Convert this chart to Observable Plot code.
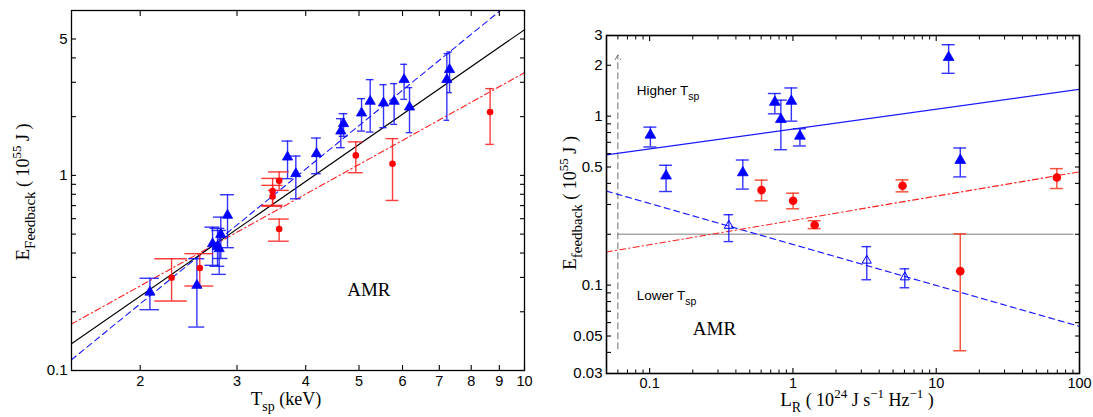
<!DOCTYPE html>
<html><head><meta charset="utf-8">
<script src="https://cdn.jsdelivr.net/npm/d3@7"></script>
<script src="https://cdn.jsdelivr.net/npm/@observablehq/plot@0.6"></script>
<style>
body{margin:0;background:#fff;}
#wrap{position:relative;width:1093px;height:417px;overflow:hidden;background:#fff;}
#left,#right{position:absolute;top:0;}
#left{left:0;} #right{left:545px;}
</style></head><body><div id="wrap"><div id="left"></div><div id="right"></div></div>
<script>
// ---------- LEFT PANEL: E_Feedback vs T_sp ----------
const leftBlueT  = [2.083, 2.536, 2.708, 2.784, 2.803, 2.765, 2.883, 3.707, 3.838, 4.185, 4.634, 4.687, 5.054, 5.24, 5.541, 5.793, 6.04, 6.178, 7.224, 7.306];
const leftBlueE  = [0.252, 0.273, 0.446, 0.421, 0.498, 0.432, 0.624, 1.241, 1.02, 1.292, 1.687, 1.841, 2.087, 2.396, 2.349, 2.396, 3.096, 2.24, 3.096, 3.484];
const leftBlueLo = [0.205, 0.167, 0.346, 0.311, 0.375, 0.342, 0.426, 0.962, 0.759, 1.02, 1.387, 1.585, 1.687, 1.667, 1.756, 1.826, 2.453, 1.656, 1.915, 2.656];
const leftBlueHi = [0.297, 0.374, 0.543, 0.522, 0.611, 0.535, 0.796, 1.5, 1.256, 1.554, 1.953, 2.072, 2.474, 3.096, 2.918, 2.953, 3.709, 2.817, 4.208, 4.289];

const leftRedT  = [2.281, 2.567, 3.579, 3.482, 3.482, 3.579, 4.934, 5.754, 8.658];
const leftRedE  = [0.299, 0.335, 0.939, 0.831, 0.78, 0.531, 1.266, 1.148, 2.111];
const leftRedLo = [0.227, 0.271, 0.838, 0.702, 0.694, 0.46, 1.032, 0.744, 1.442];
const leftRedHi = [0.374, 0.397, 1.042, 0.965, 0.889, 0.597, 1.485, 1.543, 2.784];

// fit lines (end points)
const leftFitT      = [1.5, 10];
const leftFitBlack  = [0.137, 5.58];
const leftFitRed    = [0.173, 3.36];
const leftFitBlueT  = [1.5, 9.04];
const leftFitBlue   = [0.1135, 7];

const leftXTicks  = [2, 3, 4, 5, 6, 7, 8, 9, 10];
const leftYLabels = [0.1, 1, 5];
const leftYTicks  = [0.1, 0.2, 0.3, 0.4, 0.5, 0.6, 0.7, 0.8, 0.9, 1, 2, 3, 4, 5];
const leftAnnoT = [5.21], leftAnnoE = [0.26], leftAnnoText = ["AMR"];

// ---------- RIGHT PANEL: E_feedback vs L_R ----------
const rightBlueL  = [0.1012, 0.1302, 0.447, 0.748, 0.824, 0.975, 1.119, 12.21, 14.72];
const rightBlueE  = [0.773, 0.443, 0.463, 1.209, 0.956, 1.226, 0.762, 2.227, 0.548];
const rightBlueLo = [0.657, 0.358, 0.37, 1.032, 0.633, 0.934, 0.666, 1.792, 0.437];
const rightBlueHi = [0.861, 0.512, 0.55, 1.361, 1.243, 1.468, 0.842, 2.646, 0.648];

const rightOpenL  = [0.357, 3.276, 6.04];
const rightOpenE  = [0.2248, 0.1398, 0.1114];
const rightOpenLo = [0.181, 0.1076, 0.0965];
const rightOpenHi = [0.261, 0.169, 0.1249];

const rightRedL  = [0.604, 1.003, 1.418, 5.821, 14.72, 69.5];
const rightRedE  = [0.365, 0.3155, 0.227, 0.387, 0.121, 0.433];
const rightRedLo = [0.3155, 0.283, 0.216, 0.3565, 0.0409, 0.373];
const rightRedHi = [0.418, 0.35, 0.2405, 0.4197, 0.201, 0.489];

const rightFitL         = [0.05, 100];
const rightFitBlueSolid = [0.59, 1.44];
const rightFitBlueDash  = [0.36, 0.057];
const rightFitRed       = [0.157, 0.468];
const rightRefL = [0.06, 90], rightRefE = [0.2, 0.2];
const rightArrowL = [0.06], rightArrowE1 = [0.042], rightArrowE2 = [2.3];

const rightXLabels = [0.1, 1, 10, 100];
const rightXMinor  = [0.06, 0.07, 0.08, 0.09, 0.2, 0.3, 0.4, 0.5, 0.6, 0.7, 0.8, 0.9, 2, 3, 4, 5, 6, 7, 8, 9, 20, 30, 40, 50, 60, 70, 80, 90];
const rightYLabels = [0.03, 0.05, 0.1, 0.5, 1, 2, 3];
const rightYTicks  = [0.03, 0.04, 0.05, 0.06, 0.07, 0.08, 0.09, 0.1, 0.2, 0.3, 0.4, 0.5, 0.6, 0.7, 0.8, 0.9, 1, 2, 3];
const rightAnnoL = [0.2835], rightAnnoE = [0.0548], rightAnnoText = ["AMR"];
const rightNoteL = [0.082, 0.082], rightNoteE = [1.42, 0.087], rightNoteText = ["Higher T", "Lower T"], rightNoteSub = ["sp", "sp"];

// ---------- helpers ----------
const zipPts = (xs, ys, lo, hi) => xs.map((x, i) => ({x, y: ys[i], lo: lo[i], hi: hi[i]}));
const zipLine = (xs, ys) => xs.map((x, i) => ({x, y: ys[i]}));
const SERIF = "'Liberation Serif', 'Times New Roman', serif";
const SANS = "'Liberation Sans', Arial, sans-serif";
const fmt = d => String(d);

function errorBars(rows, color, capX1, capX2, opts = {}) {
  const o = {stroke: color, strokeWidth: 1.4, strokeOpacity: 0.85, ...opts};
  return [
    Plot.ruleX(rows, {x: "x", y1: "lo", y2: "hi", ...o}),
    Plot.ruleY(rows, {y: "hi", x1: capX1, x2: capX2, ...o}),
    Plot.ruleY(rows, {y: "lo", x1: capX1, x2: capX2, ...o})
  ];
}

function frameAxes(xLabels, xTicks, xMinor, yLabels, yTicks, yMinor, xPad, yPad) {
  const m = [];
  for (const a of ["bottom", "top"]) {
    m.push(Plot.axisX(xTicks, {anchor: a, tickSize: -5, fill: "none", label: null, strokeWidth: 1.1}));
    if (xMinor) m.push(Plot.axisX(xMinor, {anchor: a, tickSize: -3.5, fill: "none", label: null, strokeWidth: 1}));
  }
  for (const a of ["left", "right"]) {
    m.push(Plot.axisY(yTicks, {anchor: a, tickSize: -5, fill: "none", label: null, strokeWidth: 1.1}));
    if (yMinor) m.push(Plot.axisY(yMinor, {anchor: a, tickSize: -3.5, fill: "none", label: null, strokeWidth: 1}));
  }
  m.push(Plot.text(xLabels, {x: d => d, frameAnchor: "bottom", lineAnchor: "top", dy: xPad, text: fmt, fontSize: 14.5, fill: "black"}));
  m.push(Plot.text(yLabels, {y: d => d, frameAnchor: "left", textAnchor: "end", dx: -yPad, text: fmt, fontSize: 15, fill: "black"}));
  return m;
}

function richText(sel, x, y, rotate, anchor, parts) {
  const t = sel.append("text")
    .attr("transform", `translate(${x},${y})` + (rotate ? ` rotate(${rotate})` : ""))
    .attr("text-anchor", anchor)
    .attr("fill", "black");
  let cur = 0;
  for (const p of parts) {
    const shift = p.shift || 0;
    t.append("tspan")
      .attr("font-family", p.family || SERIF)
      .attr("font-size", p.size)
      .attr("dy", shift - cur)
      .text(p.t);
    cur = shift;
  }
  return t;
}

// ---------- LEFT PLOT ----------
const lBlue = zipPts(leftBlueT, leftBlueE, leftBlueLo, leftBlueHi);
const lRed = zipPts(leftRedT, leftRedE, leftRedLo, leftRedHi);
const leftW = 545, leftH = 417, lm = {top: 10, right: 21, bottom: 47, left: 71};

const leftPlot = Plot.plot({
  width: leftW, height: leftH,
  marginTop: lm.top, marginRight: lm.right, marginBottom: lm.bottom, marginLeft: lm.left,
  style: {fontFamily: SANS, fontSize: "15px", background: "white", color: "black", overflow: "visible"},
  x: {type: "log", domain: [1.5, 10], label: null},
  y: {type: "log", domain: [0.1, 7], label: null},
  marks: [
    Plot.line(zipLine(leftFitBlueT, leftFitBlue), {x: "x", y: "y", stroke: "#1a1aff", strokeWidth: 1.1, strokeDasharray: "6,4", clip: true}),
    Plot.line(zipLine(leftFitT, leftFitRed), {x: "x", y: "y", stroke: "#ff2020", strokeWidth: 1.1, strokeDasharray: "6,3,1.5,3", clip: true}),
    Plot.line(zipLine(leftFitT, leftFitBlack), {x: "x", y: "y", stroke: "black", strokeWidth: 1.1, clip: true}),
    ...errorBars(lBlue, "#1010ff", d => d.x - 0.085, d => d.x + 0.085),
    ...errorBars(lRed, "#ff1a1a", d => d.x - 0.155, d => d.x + 0.155),
    Plot.dot(lBlue, {x: "x", y: "y", symbol: "triangle", r: 3.8, fill: "#0000ff", stroke: "#0000ff", strokeWidth: 0.8}),
    Plot.dot(lRed, {x: "x", y: "y", symbol: "circle", r: 3.3, fill: "#ff0000"}),
    Plot.text(leftAnnoT.map((x, i) => ({x, y: leftAnnoE[i], t: leftAnnoText[i]})), {x: "x", y: "y", text: "t", fontFamily: SERIF, fontSize: 19, fill: "black"}),
    Plot.frame({stroke: "black", strokeWidth: 1.3}),
    ...frameAxes(leftXTicks, leftXTicks, null, leftYLabels, leftYTicks, null, 5, 4)
  ]
});
document.getElementById("left").appendChild(leftPlot);
{
  const s = d3.select(leftPlot);
  richText(s, 286, 405, 0, "middle", [
    {t: "T", size: 19},
    {t: "sp", size: 14, shift: 6},
    {t: " (keV)", size: 18, shift: 0}
  ]);
  richText(s, 29, 192, -90, "middle", [
    {t: "E", size: 19},
    {t: "Feedback", size: 15, shift: 6},
    {t: " ( 10", size: 18, shift: 0},
    {t: "55", size: 13, shift: -8},
    {t: " J )", size: 18, shift: 0}
  ]);
}

// ---------- RIGHT PLOT ----------
const rBlue = zipPts(rightBlueL, rightBlueE, rightBlueLo, rightBlueHi);
const rOpen = zipPts(rightOpenL, rightOpenE, rightOpenLo, rightOpenHi);
const rRed = zipPts(rightRedL, rightRedE, rightRedLo, rightRedHi);
const capF = 1.11, capFOpen = 1.08;
const rightW = 548, rightH = 417, rm = {top: 35, right: 14, bottom: 44, left: 61};

const rightPlot = Plot.plot({
  width: rightW, height: rightH,
  marginTop: rm.top, marginRight: rm.right, marginBottom: rm.bottom, marginLeft: rm.left,
  style: {fontFamily: SANS, fontSize: "15px", background: "white", color: "black", overflow: "visible"},
  x: {type: "log", domain: [0.05, 100], label: null},
  y: {type: "log", domain: [0.03, 3], label: null},
  marks: [
    Plot.line(zipLine(rightRefL, rightRefE), {x: "x", y: "y", stroke: "#a8a8a8", strokeWidth: 1.6}),
    Plot.arrow(rightArrowL.map((x, i) => ({x, y1: rightArrowE1[i], y2: rightArrowE2[i]})), {x1: "x", x2: "x", y1: "y1", y2: "y2", stroke: "#707070", strokeWidth: 1, strokeDasharray: "6,4", headLength: 8}),
    Plot.line(zipLine(rightFitL, rightFitBlueSolid), {x: "x", y: "y", stroke: "#1a1aff", strokeWidth: 1.2, clip: true}),
    Plot.line(zipLine(rightFitL, rightFitBlueDash), {x: "x", y: "y", stroke: "#1a1aff", strokeWidth: 1.1, strokeDasharray: "6,4", clip: true}),
    Plot.line(zipLine(rightFitL, rightFitRed), {x: "x", y: "y", stroke: "#ff2020", strokeWidth: 1.1, strokeDasharray: "6,3,1.5,3", clip: true}),
    ...errorBars(rBlue, "#1010ff", d => d.x / capF, d => d.x * capF),
    ...errorBars(rOpen, "#1010ff", d => d.x / capFOpen, d => d.x * capFOpen),
    ...errorBars(rRed, "#f5361c", d => d.x / capF, d => d.x * capF, {strokeWidth: 1.5}),
    Plot.dot(rBlue, {x: "x", y: "y", symbol: "triangle", r: 4, fill: "#0000ff", stroke: "#0000ff", strokeWidth: 0.8}),
    Plot.dot(rOpen, {x: "x", y: "y", symbol: "triangle", r: 3.4, fill: "none", stroke: "#0000ff", strokeWidth: 1}),
    Plot.dot(rRed, {x: "x", y: "y", symbol: "circle", r: 4.3, fill: "#ff0000"}),
    Plot.text(rightAnnoL.map((x, i) => ({x, y: rightAnnoE[i], t: rightAnnoText[i]})), {x: "x", y: "y", text: "t", fontFamily: SERIF, fontSize: 19, fill: "black"}),
    Plot.frame({stroke: "black", strokeWidth: 1.6}),
    ...frameAxes(rightXLabels, rightXLabels, rightXMinor, rightYLabels, rightYTicks, null, 4, 4)
  ]
});
document.getElementById("right").appendChild(rightPlot);
{
  const s = d3.select(rightPlot);
  const sx = rightPlot.scale("x"), sy = rightPlot.scale("y");
  rightNoteL.forEach((x, i) => {
    richText(s, sx.apply(x), sy.apply(rightNoteE[i]) + 5, 0, "start", [
      {t: rightNoteText[i], size: 13.5, family: SANS},
      {t: rightNoteSub[i], size: 10.5, family: SANS, shift: 5}
    ]);
  });
  richText(s, 312, 406, 0, "middle", [
    {t: "L", size: 19},
    {t: "R", size: 14, shift: 6},
    {t: " ( 10", size: 18, shift: 0},
    {t: "24", size: 13, shift: -8},
    {t: " J s", size: 18, shift: 0},
    {t: "\u22121", size: 13, shift: -8},
    {t: " Hz", size: 18, shift: 0},
    {t: "\u22121", size: 13, shift: -8},
    {t: " )", size: 18, shift: 0}
  ]);
  richText(s, 31, 203, -90, "middle", [
    {t: "E", size: 19},
    {t: "feedback", size: 15, shift: 6},
    {t: " ( 10", size: 18, shift: 0},
    {t: "55", size: 13, shift: -8},
    {t: " J )", size: 18, shift: 0}
  ]);
}
</script></body></html>
